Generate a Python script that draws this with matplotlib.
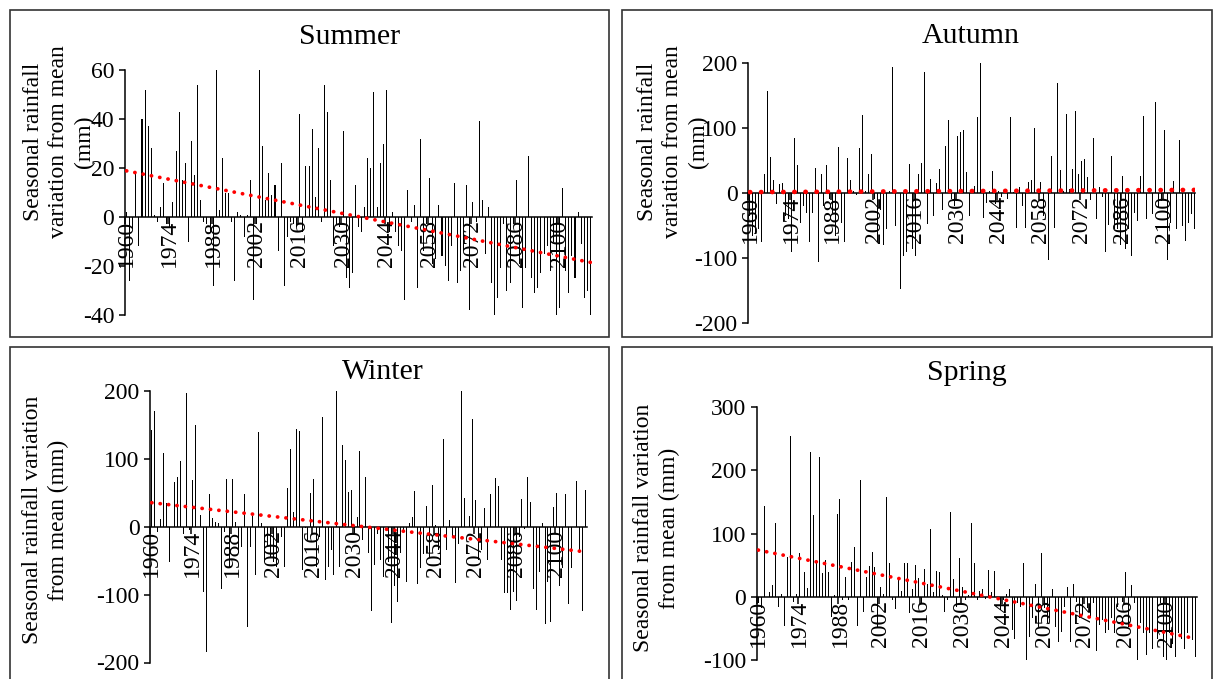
import matplotlib
matplotlib.use("Agg")
import matplotlib.pyplot as plt
from matplotlib.patches import Rectangle
import numpy as np

plt.rcParams['font.family'] = ['Liberation Serif', 'DejaVu Serif']
plt.rcParams['axes.unicode_minus'] = False

# annees 1960 -> 2110
years = list(range(1960, 2111))
tick_years = list(range(1960, 2111, 14))

summer = [2, -26, -5, 18, -12, 40, 52, 37, 28, 1, -2, 4, 14, -3, -4, 6, 27, 43, 15, 22,
          -10, 31, 17, 54, 7, -2, -3, -6, -28, 60, 3, 24, 10, 10, -2, -26, 2, 1, -8, 1,
          15, -34, -3, 60, 29, 7, 18, 9, 13, -14, 22, -28, -8, -2, -3, -4, 42, -6, 21, 21,
          36, 8, 28, -2, 54, 43, 15, -12, -3, -4, 35, -25, -29, -23, 13, -4, -6, 4, 24, 20,
          51, 4, 22, 30, 52, -6, 2, -6, -12, -14, -34, 11, -2, 5, -29, 32, -14, -3, 16, -19,
          -17, 5, -16, -20, -26, -12, 14, -27, -22, -14, 13, -38, 6, -2, 39, 7, -15, 4, -27, -41,
          -33, -21, -3, -30, -27, -3, 15, -19, -37, -21, 25, -25, -31, -29, -23, -15, -12, -22, -10, -40,
          -37, 12, -22, -31, -16, -25, 2, -11, -33, -30, -40]

autumn = [-35, -65, -63, -55, -75, 29, 158, 56, 21, -17, 14, 16, -35, -40, -90, 85, 43, -45, -19, -30,
          -75, -30, 39, -106, 29, -20, 43, -9, -30, -65, 72, -45, -75, 54, 21, 3, -3, 69, 121, 4,
          29, 61, -9, -75, -25, -80, -55, 3, 195, -50, -19, -147, -96, -91, 45, -85, -96, 29, 46, 187,
          -47, 22, -35, 16, 37, -25, 73, 113, -9, -19, 88, 94, 97, 33, -35, 84, 11, 117, 200, -38,
          -15, 3, 35, -17, 4, -5, 3, -8, 117, 2, -53, 10, -20, -53, 17, 20, 101, 6, 18, -35,
          38, -103, 58, -53, 170, 36, 4, 122, 6, 37, 127, 30, 49, 53, 25, -10, 85, -40, 10, -5,
          -90, -49, 57, -55, -55, -80, 26, -86, -55, -96, -30, -42, 26, 119, -40, 4, -32, 140, -22, -12,
          97, -103, -45, 19, -55, 82, -50, -73, -45, -32, -55]

winter = [142, 170, -8, 12, 108, 35, -52, 88, 66, 74, 97, -10, 197, -5, 69, 150, 40, 17, -96, -184,
          48, 13, 7, 5, -92, -8, 70, -59, 70, 7, -39, -30, 48, -147, -30, 16, -71, 139, 6, -52,
          -30, -44, -52, -60, 71, -15, -59, 57, 114, 22, 144, 141, -64, -2, -20, 49, 71, -59, -15, 162,
          -79, -59, -34, -71, 201, -59, 121, 98, 51, 54, -10, 14, 112, -20, 74, -39, -124, -57, -10, -49,
          -74, 161, -52, -142, -88, -111, -39, -5, -82, 5, 14, 53, -84, -61, -40, 30, -44, 62, 2, -34,
          -57, 129, -34, 10, -15, -83, -25, 201, 43, -15, 16, 159, 39, -49, -34, 27, -49, 48, -5, 72,
          60, -49, -98, -98, -122, -96, -109, -15, 41, -3, 73, 36, -92, -123, -66, 6, -144, -81, -140, 29,
          49, -88, -61, 48, -114, -61, -39, 67, -39, -124, 54]

spring = [-10, -18, 143, -21, 8, 18, 117, -16, 5, -46, 63, 254, -8, 4, 70, 54, 39, 14, 229, 129,
          59, 221, 37, 59, 40, -32, 3, 131, 155, -5, 31, -5, 55, 79, -46, 185, -24, 32, 49, 71,
          48, -48, 16, 4, 158, 53, -5, -20, 32, 10, 54, 53, -26, 13, 50, 30, -10, 44, 20, 108,
          7, 41, 39, 3, -24, -5, 134, 28, -16, 61, 16, -5, 3, 117, 53, -5, 10, 12, -4, 43,
          8, 41, -3, -21, -5, 4, 12, -53, -66, -10, -16, 54, -102, -63, -34, 21, -48, 70, -18, -41,
          -34, 12, -48, -71, -55, -16, 16, -71, 20, -8, -34, -29, -10, -18, -34, -10, -85, -45, -37, -58,
          -53, -34, -58, -16, -42, -8, 39, -48, 18, -10, -100, -42, -58, -92, -58, -82, -95, -66, -10, -95,
          -103, -58, -74, -95, -58, -66, -82, -58, -71, -69, -96]

W, H = 1214, 679
fig = plt.figure(figsize=(W / 100, H / 100), dpi=100)


def box(x0, y0, x1, y1):
    return [x0 / W, 1 - y1 / H, (x1 - x0) / W, (y1 - y0) / H]


# cadres des 4 graphiques
for (x0, y0, x1, y1) in [(10, 10, 609, 337), (622, 10, 1212, 337),
                         (10, 347, 609, 700), (622, 347, 1212, 700)]:
    fig.patches.append(Rectangle((x0 / W, 1 - y1 / H), (x1 - x0) / W, (y1 - y0) / H,
                                 transform=fig.transFigure, fill=False,
                                 edgecolor='#333333', linewidth=1.2))

panels = [
    # donnees, titre, position axes, ylim, pas y, titre xy, label, label xy, points trend
    (summer, "Summer", (125, 70, 592, 315), (-40, 60), 20, (350, 37),
     "Seasonal rainfall\nvariation from mean\n(mm)", (59, 142), (2.7, 2.2)),
    (autumn, "Autumn", (748.5, 63.3, 1195.5, 323.3), (-200, 200), 100, (971, 36),
     "Seasonal rainfall\nvariation from mean\n(mm)", (673, 142), (3.4, 2.3)),
    (winter, "Winter", (150.3, 391, 587, 662.5), (-200, 200), 100, (383, 372),
     "Seasonal rainfall variation\nfrom mean (mm)", (46, 520), (2.7, 2.2)),
    (spring, "Spring", (756.8, 407.3, 1197.3, 660), (-100, 300), 100, (967, 373),
     "Seasonal rainfall variation\nfrom mean (mm)", (657, 528), (2.7, 2.2)),
]

idx = np.arange(len(years))

for vals, title, pos, ylim, step, txy, lab, lxy, dot in panels:
    ax = fig.add_axes(box(*pos))
    ax.bar(idx, vals, width=0.33, color='black', linewidth=0)

    # tendance lineaire (pointillés ronds)
    a, b = np.polyfit(idx, vals, 1)
    ax.plot(idx, a * idx + b, color='red', linewidth=dot[0],
            linestyle=(0, (0.05, dot[1])), dash_capstyle='round', zorder=3)

    ax.set_xlim(-0.5, len(years) - 0.5)
    ax.set_ylim(*ylim)
    ax.set_yticks(np.arange(ylim[0], ylim[1] + 1, step))
    ax.spines['top'].set_visible(False)
    ax.spines['right'].set_visible(False)
    ax.spines['bottom'].set_position(('data', 0))
    ax.spines['left'].set_linewidth(1.1)
    ax.spines['bottom'].set_linewidth(1.1)

    ax.set_xticks([t - 1960 - 0.5 for t in tick_years])
    ax.set_xticklabels([])
    ax.set_xticks([t - 1960 for t in tick_years], minor=True)
    ax.set_xticklabels([str(t) for t in tick_years], minor=True, rotation=90)
    ax.tick_params(axis='x', which='major', direction='out', length=5, width=1.1)
    ax.tick_params(axis='x', which='minor', length=0, pad=2, labelsize=17)
    ax.tick_params(axis='y', direction='out', length=4.3, width=1.1, pad=3.5, labelsize=17)
    ax.patch.set_alpha(0)

    fig.text(txy[0] / W, 1 - txy[1] / H, title, fontsize=21.5, ha='center', va='center')
    fig.text(lxy[0] / W, 1 - lxy[1] / H, lab, fontsize=17, rotation=90,
             ha='center', va='center', multialignment='center', linespacing=1.3)

fig.savefig("out.png", dpi=100)
